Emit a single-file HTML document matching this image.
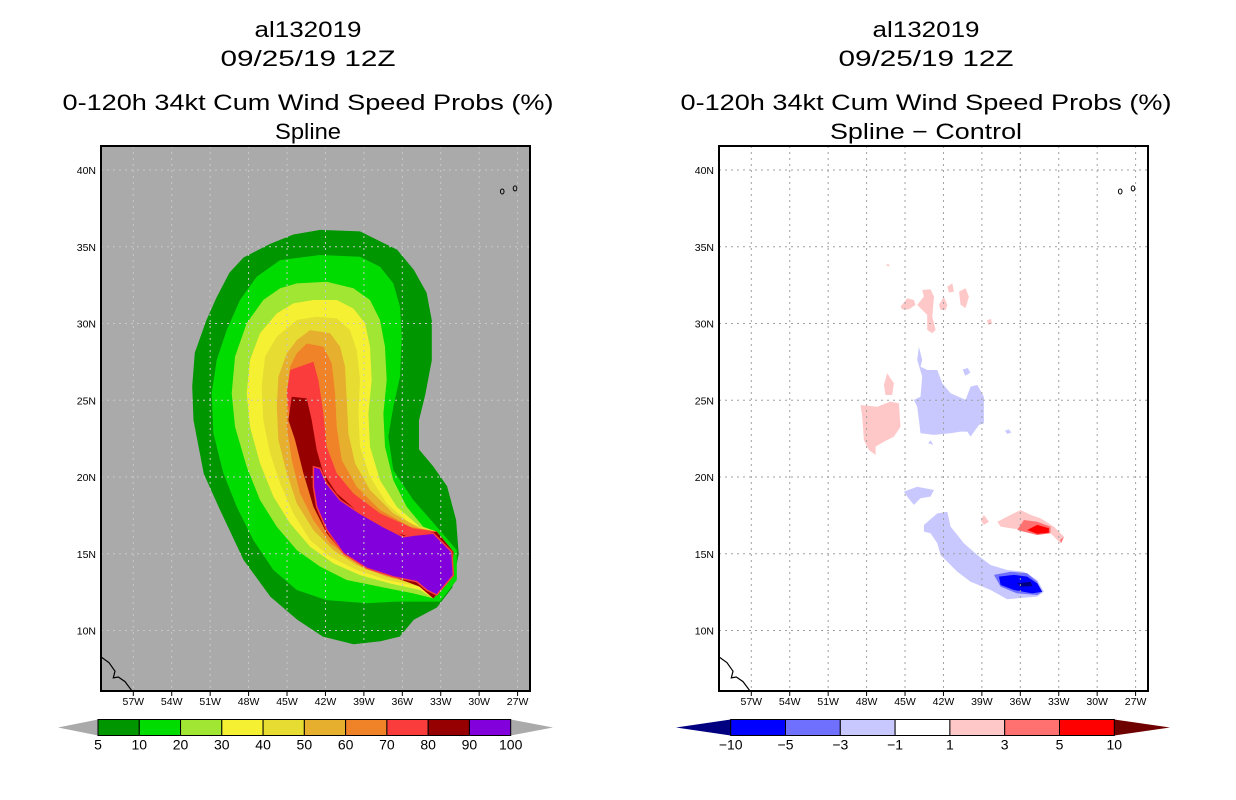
<!DOCTYPE html>
<html><head><meta charset="utf-8"><style>
html,body{margin:0;padding:0;background:#fff;}
svg{display:block;}
text{font-family:"Liberation Sans",sans-serif;fill:#000;}
</style></head><body>
<svg id="chart" width="1236" height="800" viewBox="0 0 1236 800" xmlns="http://www.w3.org/2000/svg"></svg>
<script>
// ---- data ----
const lonTicks=[57,54,51,48,45,42,39,36,33,30,27];
const latTicks=[40,35,30,25,20,15,10];
const probLevels=[5,10,20,30,40,50,60,70,80,90,100];
const probColors=["#009600","#00dc00","#a0e632","#f5f032","#e6dc32","#e6af2d","#f08228","#fa3c3c","#960000","#8200dc"];
const diffLevels=[-10,-5,-3,-1,1,3,5,10];
const diffColors=["#0000ff","#7070ff","#c8c8ff","#ffffff","#ffc8c8","#ff7070","#ff0000"];
const tip=[[33.31,16.44],[32.01,15.13],[32.14,13.5],[33.58,12.09]];
const prob5=[[42.4,36.1],[39.3,36.0],[36.4,34.8],[35.1,33.5],[34.1,32.0],[33.7,30.2],[33.7,27.6],[34.2,25.4],[34.7,23.7],[34.7,21.8],[33.6,20.7],[32.5,19.4],[31.8,17.2],[31.6,15.0],[32.1,12.8],[33.3,11.5],[35.1,10.7],[36.2,9.6],[37.7,9.3],[39.8,9.1],[42.2,9.6],[44.2,10.7],[46.3,12.2],[48.4,14.6],[50.2,17.8],[51.5,20.2],[52.3,23.7],[52.4,25.9],[52.2,28.1],[51.3,30.2],[50.5,31.7],[49.5,33.3],[48.4,34.3],[46.3,35.2],[44.5,35.8]];
const prob10=[[45.54,34.13],[42.42,34.46],[39.3,34.35],[37.74,33.7],[36.7,32.61],[36.18,31.09],[36.05,29.14],[36.18,26.53],[36.7,24.58],[37.09,22.63],[36.7,20.45],[35.14,18.5],[33.31,16.76],[31.75,15.24],[31.75,13.29],[33.05,11.88],[36.44,11.88],[38.78,11.77],[41.9,11.98],[44.24,12.64],[46.06,13.94],[47.63,15.89],[48.93,18.06],[49.97,20.24],[50.75,22.84],[50.88,25.45],[50.49,27.62],[49.71,29.57],[48.67,31.53],[47.37,33.05]];
const prob20=[[44.24,32.61],[41.9,32.72],[39.82,32.29],[38.52,31.53],[37.74,30.23],[37.35,28.49],[37.22,26.32],[37.48,24.14],[37.35,21.97],[36.7,19.8],[35.66,18.06],[34.36,16.76]].concat(tip,[[35.14,12.42],[37.74,12.85],[40.34,13.29],[42.42,14.16],[44.24,15.24],[45.8,16.76],[47.11,18.5],[48.15,20.67],[49.06,23.28],[49.32,25.45],[49.06,27.84],[48.15,30.01],[46.85,31.53],[45.54,32.29]]);
const prob30=[[42.94,31.53],[41.12,31.53],[39.82,30.98],[38.91,30.01],[38.52,28.49],[38.39,26.32],[38.65,24.14],[38.52,21.97],[37.74,19.8],[36.44,18.06],[34.62,16.76]].concat(tip,[[34.62,12.64],[36.97,13.07],[39.3,13.61],[41.38,14.37],[43.2,15.46],[44.76,16.98],[46.06,18.72],[47.11,20.89],[47.89,23.28],[48.15,25.45],[47.89,27.62],[47.11,29.36],[45.8,30.66],[44.5,31.31]]);
const prob40=[[42.68,30.44],[41.12,30.33],[40.08,29.57],[39.56,28.27],[39.3,26.32],[39.43,24.14],[39.3,21.97],[38.52,20.02],[37.22,18.28],[35.4,16.98]].concat(tip,[[34.62,12.85],[37.22,13.29],[39.56,13.94],[41.64,14.81],[43.2,15.89],[44.5,17.63],[45.54,19.58],[46.32,21.54],[46.85,23.71],[46.98,25.88],[46.72,27.84],[45.8,29.14],[44.24,30.23]]);
const prob50=[[43.2,29.57],[41.64,29.36],[40.86,28.49],[40.47,27.19],[40.34,25.01],[40.21,22.84],[39.69,20.89],[38.52,19.15],[36.7,17.63],[34.62,16.65]].concat(tip,[[34.62,12.96],[37.22,13.5],[39.56,14.26],[41.38,15.24],[42.94,16.54],[44.24,18.28],[45.02,20.24],[45.67,22.41],[45.8,24.58],[45.67,26.53],[45.02,28.05],[44.24,28.92]]);
const prob60=[[43.46,28.7],[42.16,28.49],[41.51,27.4],[41.25,25.45],[41.12,23.28],[40.73,21.1],[39.56,19.37],[37.74,17.85],[35.4,16.76]].concat(tip,[[34.88,13.07],[37.74,13.72],[39.82,14.59],[41.64,15.68],[42.94,17.19],[43.98,18.93],[44.63,21.1],[45.02,23.28],[45.02,25.45],[44.76,27.19],[44.24,28.05]]);
const prob70=[[44.76,26.97],[42.94,27.51],[42.55,26.32],[42.16,24.14],[41.9,21.97],[41.12,20.24],[39.82,18.93],[37.74,17.63],[35.14,16.65]].concat(tip,[[35.14,13.18],[37.74,13.94],[40.08,14.92],[41.64,16.11],[42.68,17.63],[43.46,19.58],[44.11,21.54],[44.76,23.71],[45.02,25.45]]);
const prob80=[[44.63,25.23],[43.46,25.12],[43.07,23.71],[42.68,21.76],[42.16,20.24],[41.12,18.93],[39.3,17.63],[37.22,16.54],[35.4,16.11]].concat(tip,[[34.62,12.85],[36.7,13.5],[38.78,14.16],[40.6,15.02],[41.9,16.33],[42.94,18.06],[43.72,20.24],[44.37,22.41],[44.89,23.71]]);
const prob90=[[42.94,20.67],[42.42,20.56],[41.9,19.58],[40.86,18.5],[39.3,17.63],[37.48,16.76],[35.92,16.11],[35.01,16.22],[33.58,16.33],[32.14,15.13],[32.01,13.61],[33.31,12.31],[34.1,12.64],[34.88,13.18],[36.7,13.5],[38.78,14.05],[40.6,15.02],[41.9,16.54],[42.68,18.06],[42.94,19.37]];
const probContours=[prob5,prob10,prob20,prob30,prob40,prob50,prob60,prob70,prob80,prob90];
// difference field polygons: [category index into diffColors, points]
const diffNeg1=[[[43.92,28.49],[43.66,27.62],[43.79,27.19],[43.27,26.97],[42.48,26.97],[42.09,26.1],[41.44,25.45],[40.27,25.02],[39.88,25.89],[39.36,26.0],[38.84,25.23],[38.84,23.5],[39.23,23.39],[39.88,22.63],[40.14,22.96],[40.66,22.96],[41.44,22.85],[42.74,22.74],[43.79,22.85],[43.92,23.72],[44.05,24.58],[44.31,25.02],[43.79,25.23],[43.66,26.54],[44.05,27.62]],
 [[45.09,19.05],[44.05,19.37],[42.74,19.15],[43.01,18.72],[43.79,18.61],[44.31,18.18],[44.83,18.72]],
 [[43.53,16.87],[42.48,17.63],[41.7,17.74],[41.44,16.77],[40.4,15.68],[39.36,14.92],[38.32,14.27],[37.02,13.94],[35.72,13.83],[34.68,13.29],[34.16,12.53],[34.68,12.21],[36.24,12.1],[37.02,12.03],[38.32,12.64],[39.88,13.18],[40.92,13.83],[42.22,14.92],[42.48,15.68],[43.01,16.33],[43.53,16.44]],
 [[40.5,27.0],[40.1,27.1],[39.9,26.8],[40.3,26.6]],[[37.2,23.0],[36.9,23.1],[36.7,22.9],[37.0,22.8]],[[43.2,22.2],[43.0,22.4],[42.8,22.1]]];
const diffNeg3=[[[38.06,13.62],[36.76,13.83],[35.46,13.73],[34.68,13.18],[34.29,12.53],[34.68,12.31],[36.24,12.42],[37.54,12.86]]];
const diffNeg5=[[[37.67,13.51],[36.5,13.62],[35.46,13.51],[34.68,13.07],[34.29,12.53],[35.07,12.42],[36.5,12.64],[37.54,12.97]]];
const diffNeg10=[[[36.24,13.07],[35.2,13.18],[35.07,12.9],[35.98,12.86]]];
const diffPos1=[[[37.8,17.09],[36.76,17.53],[35.98,17.85],[35.2,17.53],[34.42,17.31],[33.38,16.77],[32.6,16.12],[32.86,15.68],[33.64,16.33],[34.68,16.22],[35.72,16.55],[36.76,16.66],[37.54,16.77]],
 [[39.1,17.2],[38.84,17.53],[38.45,17.09],[38.84,16.87]],
 [[48.47,24.69],[47.17,24.58],[46.13,24.91],[45.48,24.8],[45.35,23.28],[45.87,22.63],[46.65,22.3],[47.3,21.98],[47.3,21.43],[47.82,21.76],[48.21,22.41],[48.34,23.93]],
 [[46.65,26.0],[46.39,26.76],[45.87,26.1],[46.0,25.34],[46.52,25.34]],
 [[45.35,31.1],[44.83,31.64],[44.31,31.53],[44.18,31.21],[44.7,30.92],[45.22,30.92]],
 [[44.05,31.21],[43.53,31.75],[43.66,32.18],[43.01,32.23],[42.74,31.75],[42.87,30.45],[42.61,29.58],[42.87,29.36],[43.27,29.58],[43.27,30.56],[43.79,30.99]],
 [[42.35,31.21],[41.97,31.75],[41.7,31.21],[41.83,30.88],[42.22,30.88]],
 [[41.7,32.4],[41.31,32.62],[41.18,32.08],[41.57,32.01]],
 [[40.79,32.08],[40.27,32.29],[40.01,31.75],[40.27,31.0],[40.66,31.21]],
 [[38.6,30.2],[38.3,30.3],[38.2,30.0],[38.5,29.9]],[[46.5,33.8],[46.3,33.9],[46.2,33.7]]];
const diffPos3=[[[36.24,16.55],[35.72,17.2],[34.68,17.09],[33.64,16.77],[33.64,16.33],[34.68,16.22]],[[32.9,15.9],[32.6,16.1],[32.8,15.7]]];
const diffPos5=[[[35.46,16.55],[34.68,16.88],[33.77,16.66],[33.77,16.37],[34.68,16.29]]];
const diffFields=[[2,diffNeg1],[1,diffNeg3],[0,diffNeg5],[-1,diffNeg10],[4,diffPos1],[5,diffPos3],[6,diffPos5]];
const coastline=[[59.54,8.29],[58.9,7.9],[58.43,7.35],[58.56,6.91],[58.17,6.97],[57.65,6.67],[57.12,6.08]];
const islands=[[28.2,38.6],[27.2,38.8]];

// ---- layout ----
const NS="http://www.w3.org/2000/svg";
const svg=document.getElementById("chart");
function mk(tag,attrs,parent){const e=document.createElementNS(NS,tag);for(const k in attrs)e.setAttribute(k,attrs[k]);(parent||svg).appendChild(e);return e;}
const panels=[{x0:101,x1:530,title:"Spline",kind:"prob",cx:315},{x0:719,x1:1148,title:"Spline \u2212 Control",kind:"diff",cx:933}];
const Y0=146,Y1=691,LPD_X=12.81,LPD_Y=15.35;
function xScale(p){const x57=p.x0+32.3;return w=>x57+(57-w)*LPD_X;}
function yScale(lat){return 170+(40-lat)*LPD_Y;}
function poly(pts,xs){return pts.map(q=>xs(q[0]).toFixed(1)+","+yScale(q[1]).toFixed(1)).join(" ");}

panels.forEach((p,pi)=>{
  const xs=xScale(p);
  const g=mk("g",{});
  
  
  // titles
  const titles=[["al132019",37,107],["09/25/19 12Z",66,175],["0-120h 34kt Cum Wind Speed Probs (%)",110,491],[p.title,139,p.kind==="prob"?66:192]];
  titles.forEach((t,i)=>{
    const e=mk("text",{x:p.cx-7,y:t[1],"text-anchor":"middle","font-size":"22",textLength:t[2],lengthAdjust:"spacingAndGlyphs"},g);
    e.textContent=t[0];
    
    
  });
  const cid="clip"+pi;
  const cp=mk("clipPath",{id:cid},g);mk("rect",{x:p.x0,y:Y0,width:p.x1-p.x0,height:Y1-Y0},cp);
  const bg=mk("rect",{x:p.x0,y:Y0,width:p.x1-p.x0,height:Y1-Y0,fill:p.kind==="prob"?"#aaaaaa":"#ffffff"},g);
  
  
  const fg=mk("g",{"clip-path":"url(#"+cid+")"},g);
  if(p.kind==="prob"){
    probContours.forEach((pts,i)=>{
      const e=mk("polygon",{points:poly(pts,xs),fill:probColors[i]},fg);
      if(i===9){e.setAttribute("stroke","#fa3c3c");e.setAttribute("stroke-width","1.5");}
      
      
    });
  }else{
    diffFields.forEach(f=>{
      const col=f[0]<0?"#000080":diffColors[f[0]];
      f[1].forEach(pts=>{
        const e=mk("polygon",{points:poly(pts,xs),fill:col},fg);
        
        
      });
    });
  }
  // grid
  const gridCol=p.kind==="prob"?"#c8c8c8":"#a0a0a0";
  lonTicks.forEach(w=>{
    const x=xs(w);
    const l=mk("line",{x1:x,x2:x,y1:Y0,y2:Y1,stroke:gridCol,"stroke-width":1,"stroke-dasharray":"2,4"},fg);
    
    
    mk("line",{x1:x,x2:x,y1:Y1,y2:Y1+5,stroke:"#000","stroke-width":1},g);
    const t=mk("text",{x:x,y:Y1+14,"text-anchor":"middle","font-size":"10.5"},g);
    t.textContent=w+"W";
    
    
  });
  latTicks.forEach(lat=>{
    const y=yScale(lat);
    const l=mk("line",{x1:p.x0,x2:p.x1,y1:y,y2:y,stroke:gridCol,"stroke-width":1,"stroke-dasharray":"2,4"},fg);
    
    
    const t=mk("text",{x:p.x0-5,y:y+4,"text-anchor":"end","font-size":"10.5"},g);
    t.textContent=lat+"N";
    
    
  });
  const cl=mk("polyline",{points:poly(coastline,xs),fill:"none",stroke:"#000","stroke-width":1.2},fg);
  
  
  islands.forEach(q=>{
    const e=mk("ellipse",{cx:xs(q[0]),cy:yScale(q[1]),rx:1.8,ry:2.5,fill:"none",stroke:"#000","stroke-width":1},fg);
    
    
  });
  const fr=mk("rect",{x:p.x0,y:Y0,width:p.x1-p.x0,height:Y1-Y0,fill:"none",stroke:"#000","stroke-width":2},g);
  
  

  // colorbar
  const cb=mk("g",{},g);
  
  
  const cy0=719.5,cy1=735.5,cym=(cy0+cy1)/2;
  if(p.kind==="prob"){
    const bx0=98,bw=(510.7-98)/10;
    mk("polygon",{points:`58,${cym} ${bx0},${cy0} ${bx0},${cy1}`,fill:"#aaaaaa"},cb);
    mk("polygon",{points:`553,${cym} 510.7,${cy0} 510.7,${cy1}`,fill:"#aaaaaa"},cb);
    probColors.forEach((c,i)=>{
      const r=mk("rect",{x:bx0+i*bw,y:cy0,width:bw,height:cy1-cy0,fill:c,stroke:"#000","stroke-width":1},cb);
      
      
    });
    probLevels.forEach((v,i)=>{
      const t=mk("text",{x:bx0+i*bw,y:cy1+14,"text-anchor":"middle","font-size":"14"},cb);
      t.textContent=v;
      
      
    });
  }else{
    const bx0=730.7,bw=(1114.3-730.7)/7;
    mk("polygon",{points:`676,${cym} ${bx0},${cy0} ${bx0},${cy1}`,fill:"#000080"},cb);
    mk("polygon",{points:`1170,${cym} 1114.3,${cy0} 1114.3,${cy1}`,fill:"#6e0000"},cb);
    diffColors.forEach((c,i)=>{
      const r=mk("rect",{x:bx0+i*bw,y:cy0,width:bw,height:cy1-cy0,fill:c,stroke:"#000","stroke-width":1},cb);
      
      
    });
    diffLevels.forEach((v,i)=>{
      const t=mk("text",{x:bx0+i*bw,y:cy1+14,"text-anchor":"middle","font-size":"14"},cb);
      t.textContent=v<0?"\u2212"+(-v):String(v);
      
      
    });
  }
});
</script>
</body></html>
